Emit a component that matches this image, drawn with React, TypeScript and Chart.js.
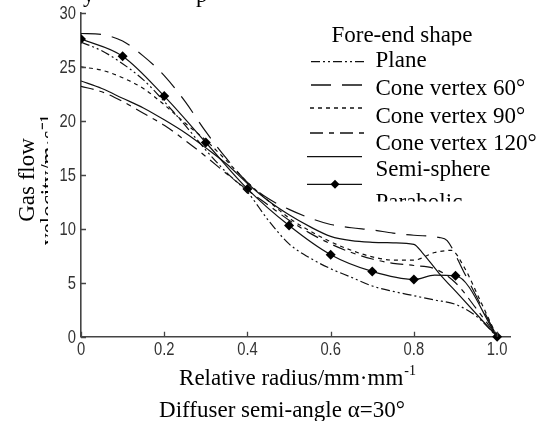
import React, { useEffect, useRef } from "react";
import { Chart, registerables } from "chart.js";

Chart.register(...registerables);

// ---------- data ----------
const X_TICKS = [0, 0.2, 0.4, 0.6, 0.8, 1.0];
const X_TICK_LABELS = ["0", "0.2", "0.4", "0.6", "0.8", "1.0"];
const Y_TICKS = [0, 5, 10, 15, 20, 25, 30];
const Y_TICK_LABELS = ["0", "5", "10", "15", "20", "25", "30"];

const LABELS = ["Plane", "Cone vertex 60°", "Cone vertex 90°", "Cone vertex 120°", "Semi-sphere", "Parabolic"];

// Plane
const PLANE_X = [0, 0.05, 0.1, 0.15, 0.2, 0.25, 0.3, 0.35, 0.4, 0.45, 0.5, 0.55, 0.6, 0.65, 0.7, 0.75, 0.8, 0.85, 0.9, 0.95, 1.0];
const PLANE_Y = [27.3, 26.5, 25.3, 23.8, 21.8, 19.6, 17.3, 15.2, 13.4, 10.8, 8.6, 7.3, 6.3, 5.5, 4.7, 4.2, 3.8, 3.4, 3.0, 1.9, 0];

// Cone vertex 60°
const CONE60_X = [0, 0.05, 0.1, 0.15, 0.2, 0.25, 0.3, 0.35, 0.4, 0.45, 0.5, 0.55, 0.6, 0.65, 0.7, 0.75, 0.8, 0.86, 0.88, 0.92, 0.96, 1.0];
const CONE60_Y = [28.1, 28.0, 27.4, 26.0, 24.2, 21.8, 19.0, 16.5, 14.3, 12.8, 11.8, 11.0, 10.4, 10.1, 9.9, 9.6, 9.4, 9.2, 8.9, 6.0, 3.0, 0];

// Cone vertex 90°
const CONE90_X = [0, 0.05, 0.1, 0.15, 0.2, 0.25, 0.3, 0.35, 0.4, 0.45, 0.5, 0.55, 0.6, 0.65, 0.7, 0.75, 0.8, 0.85, 0.89, 0.92, 0.96, 1.0];
const CONE90_Y = [25.0, 24.7, 24.0, 23.0, 21.5, 19.8, 18.2, 16.3, 14.3, 12.6, 11.0, 9.8, 8.8, 8.0, 7.4, 7.1, 7.1, 7.8, 8.0, 6.5, 3.3, 0];

// Cone vertex 120°
const CONE120_X = [0, 0.05, 0.1, 0.15, 0.2, 0.25, 0.3, 0.35, 0.4, 0.45, 0.5, 0.55, 0.6, 0.65, 0.7, 0.75, 0.8, 0.85, 0.9, 0.95, 1.0];
const CONE120_Y = [23.2, 22.7, 21.8, 20.7, 19.6, 18.2, 16.7, 15.1, 13.6, 12.2, 10.8, 9.6, 8.6, 7.8, 7.2, 6.8, 6.6, 6.3, 5.0, 2.6, 0];

// Semi-sphere
const SEMI_X = [0, 0.05, 0.1, 0.15, 0.2, 0.25, 0.3, 0.35, 0.4, 0.45, 0.5, 0.55, 0.6, 0.65, 0.7, 0.75, 0.8, 0.82, 0.86, 0.91, 1.0];
const SEMI_Y = [23.7, 23.0, 22.1, 21.2, 20.1, 18.9, 17.5, 16.0, 14.2, 12.6, 11.3, 10.2, 9.3, 8.9, 8.75, 8.7, 8.55, 7.8, 5.9, 3.8, 0];

// Parabolic (with diamond markers)
const PARA_X = [0, 0.1, 0.2, 0.3, 0.4, 0.5, 0.6, 0.7, 0.8, 0.85, 0.9, 1.0];
const PARA_Y = [27.6, 26.0, 22.3, 18.0, 13.7, 10.3, 7.6, 6.05, 5.3, 5.7, 5.65, 0];
const PARA_MARK = [1, 1, 1, 1, 1, 1, 1, 1, 1, 0, 1, 1];

const DASHES = [
  [9, 3, 2, 3, 2, 3],
  [20, 11],
  [4, 4],
  [13, 6, 5, 6],
  [],
  [],
];

const SERIF = "'Liberation Serif', 'Times New Roman', serif";
const SANS = "'Liberation Sans', Arial, sans-serif";

const pts = (xs: number[], ys: number[]) => xs.map((x, i) => ({ x, y: ys[i] }));

const overlay = {
  id: "overlay",
  afterDraw(chart: any) {
    const ctx: CanvasRenderingContext2D = chart.ctx;
    const { left, bottom } = chart.chartArea;
    const xs = chart.scales.x;
    const ys = chart.scales.y;
    ctx.save();
    // inward tick marks
    ctx.strokeStyle = "#444";
    ctx.lineWidth = 1.3;
    ctx.beginPath();
    Y_TICKS.forEach((v) => {
      const y = Math.round(ys.getPixelForValue(v)) + 0.5;
      ctx.moveTo(left, y);
      ctx.lineTo(left + 5, y);
    });
    X_TICKS.forEach((v) => {
      const x = Math.round(xs.getPixelForValue(v)) + 0.5;
      ctx.moveTo(x, bottom);
      ctx.lineTo(x, bottom - 5);
    });
    ctx.stroke();

    // condensed tick labels
    ctx.fillStyle = "#333";
    ctx.font = `18px ${SANS}`;
    const SX = 0.82;
    Y_TICKS.forEach((v, i) => {
      const y = ys.getPixelForValue(v);
      ctx.save();
      ctx.translate(left - 5, y);
      ctx.scale(SX, 1);
      ctx.textAlign = "right";
      ctx.textBaseline = "middle";
      ctx.fillText(Y_TICK_LABELS[i], 0, 1);
      ctx.restore();
    });
    X_TICKS.forEach((v, i) => {
      const x = xs.getPixelForValue(v);
      ctx.save();
      ctx.translate(x, bottom + 4);
      ctx.scale(SX, 1);
      ctx.textAlign = "center";
      ctx.textBaseline = "top";
      ctx.fillText(X_TICK_LABELS[i], 0, 0);
      ctx.restore();
    });

    // legend
    ctx.fillStyle = "#000";
    const clipText = (t: string, x: number, y: number, clip: number[] | null, align: CanvasTextAlign = "left") => {
      ctx.save();
      if (clip) {
        ctx.beginPath();
        ctx.rect(clip[0], clip[1], clip[2], clip[3]);
        ctx.clip();
      }
      ctx.textAlign = align;
      ctx.textBaseline = "alphabetic";
      ctx.fillText(t, x, y);
      ctx.restore();
    };
    ctx.font = `23px ${SERIF}`;
    clipText("Fore-end shape", 402, 42, [0, 0, 547, 45.5], "center");
    const textY = [67, 95, 122.5, 150, 176, 209];
    const sampleY = [61.7, 85, 108, 133, 156.7, 184.3];
    const sampleX0 = [311, 311, 310, 310, 307, 307];
    const sampleX1 = [365, 368, 362, 365, 362, 362];
    LABELS.forEach((lab, i) => {
      clipText(lab, 375.5, textY[i], i === 5 ? [0, 0, 547, 201.5] : null);
      ctx.save();
      ctx.strokeStyle = "#111";
      ctx.lineWidth = 1.3;
      ctx.setLineDash(DASHES[i]);
      ctx.beginPath();
      ctx.moveTo(sampleX0[i], sampleY[i]);
      ctx.lineTo(sampleX1[i], sampleY[i]);
      ctx.stroke();
      ctx.restore();
    });
    // diamond in legend
    ctx.beginPath();
    const dx = 335, dy = 184.3, r = 4.5;
    ctx.moveTo(dx, dy - r);
    ctx.lineTo(dx + r, dy);
    ctx.lineTo(dx, dy + r);
    ctx.lineTo(dx - r, dy);
    ctx.closePath();
    ctx.fill();

    // x-axis title with superscript
    const main = "Relative radius/mm·mm";
    const sup = "-1";
    ctx.font = `23px ${SERIF}`;
    const wm = ctx.measureText(main).width;
    ctx.font = `14px ${SERIF}`;
    const ws = ctx.measureText(sup).width;
    const sx = 297 - (wm + ws) / 2;
    ctx.font = `23px ${SERIF}`;
    clipText(main, sx, 385, null);
    ctx.font = `14px ${SERIF}`;
    clipText(sup, sx + wm + 1, 375, null);

    // caption
    ctx.font = `23px ${SERIF}`;
    clipText("Diffuser semi-angle α=30°", 282, 417, null, "center");

    // clipped fragments of the line above the figure
    clipText("y", 83, 2, null);
    clipText("p", 196, 2, null);

    // y-axis title (rotated, second line partly hidden)
    ctx.save();
    ctx.translate(0, 180);
    ctx.rotate(-Math.PI / 2);
    ctx.textAlign = "center";
    ctx.fillText("Gas flow", 0, 34);
    ctx.restore();
    ctx.save();
    ctx.beginPath();
    ctx.rect(0, 0, 48, 421);
    ctx.clip();
    ctx.translate(0, 180);
    ctx.rotate(-Math.PI / 2);
    ctx.textAlign = "center";
    ctx.fillText("velocity/m·s⁻¹", 0, 56);
    ctx.restore();

    ctx.restore();
  },
};

export default function App() {
  const ref = useRef<HTMLCanvasElement>(null);
  useEffect(() => {
    if (!ref.current) return;
    const line = (i: number, xs: number[], ysv: number[], extra: any = {}) => ({
      label: LABELS[i],
      data: pts(xs, ysv),
      borderColor: "#111",
      backgroundColor: "#000",
      borderWidth: 1.2,
      borderDash: DASHES[i],
      pointRadius: 0,
      cubicInterpolationMode: "monotone",
      fill: false,
      ...extra,
    });
    const chart = new Chart(ref.current, {
      type: "line",
      data: {
        datasets: [
          line(0, PLANE_X, PLANE_Y),
          line(1, CONE60_X, CONE60_Y),
          line(2, CONE90_X, CONE90_Y),
          line(3, CONE120_X, CONE120_Y),
          line(4, SEMI_X, SEMI_Y),
          line(5, PARA_X, PARA_Y, {
            pointRadius: PARA_MARK.map((m) => (m ? 5 : 0)),
            pointStyle: "rectRot",
            pointBorderWidth: 0,
            pointBackgroundColor: "#000",
            clip: { left: 0, top: false, right: false, bottom: false },
          }),
        ] as any,
      },
      options: {
        responsive: false,
        animation: false,
        layout: { padding: { left: 0, top: 13, right: 37, bottom: 0 } },
        plugins: { legend: { display: false }, tooltip: { enabled: false } },
        scales: {
          x: {
            type: "linear",
            min: 0,
            max: 1.031,
            afterBuildTicks: (s: any) => {
              s.ticks = X_TICKS.map((v) => ({ value: v }));
            },
            afterFit: (s: any) => {
              s.height = 84.3;
            },
            grid: { display: true, drawOnChartArea: false, drawTicks: false },
            border: { display: true, color: "#444", width: 1.6 },
            ticks: { display: false },
          },
          y: {
            type: "linear",
            min: 0,
            max: 30,
            afterBuildTicks: (s: any) => {
              s.ticks = Y_TICKS.map((v) => ({ value: v }));
            },
            afterFit: (s: any) => {
              s.width = 81;
            },
            grid: { display: true, drawOnChartArea: false, drawTicks: false },
            border: { display: true, color: "#444", width: 1.6 },
            ticks: { display: false },
          },
        },
      },
      plugins: [overlay],
    });
    return () => chart.destroy();
  }, []);
  return (
    <div style={{ position: "fixed", left: 0, top: 0, width: 547, height: 421, background: "#fff" }}>
      <canvas ref={ref} width={547} height={421} style={{ display: "block" }} />
    </div>
  );
}
